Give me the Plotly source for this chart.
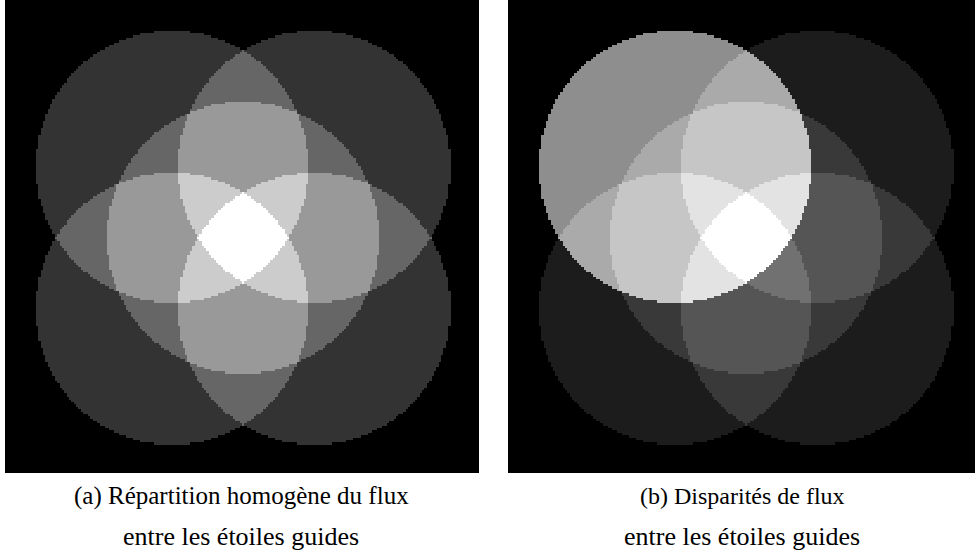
import numpy as np
import plotly.graph_objects as go

# Guide-star footprints on a 200x200 pixel grid: top-left, top-right, bottom-left, bottom-right, centre
star_x = [70, 130, 70, 130, 100]
star_y = [70, 70, 130, 130, 100]
star_radius = 57.5
grid_n = 200

# Relative flux of each guide star
flux_a = [1, 1, 1, 1, 1]   # homogeneous
flux_b = [5, 1, 1, 1, 1]   # disparate

caption_a = ["(a) Répartition homogène du flux", "entre les étoiles guides"]
caption_b = ["(b) Disparités de flux", "entre les étoiles guides"]


def intensity(flux):
    yy, xx = np.mgrid[0:grid_n, 0:grid_n]
    z = np.zeros((grid_n, grid_n))
    total = float(sum(flux))
    for x0, y0, f in zip(star_x, star_y, flux):
        inside = (xx - x0) ** 2 + (yy - y0) ** 2 <= star_radius ** 2
        z += np.where(inside, f / total, 0.0)
    return np.clip(z * 255.0, 0, 255)


gray = [[0, "rgb(0,0,0)"], [1, "rgb(255,255,255)"]]

fig = go.Figure()
fig.add_trace(go.Heatmap(z=intensity(flux_a), colorscale=gray, zmin=0, zmax=255,
                         showscale=False, hoverinfo="skip", xaxis="x", yaxis="y"))
fig.add_trace(go.Heatmap(z=intensity(flux_b), colorscale=gray, zmin=0, zmax=255,
                         showscale=False, hoverinfo="skip", xaxis="x2", yaxis="y2"))

W, H = 975, 559
top_frac = 1 - 473 / H
ax_common = dict(visible=False, showgrid=False, zeroline=False, fixedrange=True)
fig.update_layout(
    width=W, height=H, margin=dict(l=0, r=0, t=0, b=0),
    paper_bgcolor="white", plot_bgcolor="white",
    xaxis=dict(domain=[5 / W, 479 / W], range=[-0.5, grid_n - 0.5], **ax_common),
    yaxis=dict(domain=[top_frac, 1], range=[grid_n - 0.5, -0.5], anchor="x", **ax_common),
    xaxis2=dict(domain=[508 / W, 1], range=[-0.5, -0.5 + grid_n * 467 / 474], anchor="y2", **ax_common),
    yaxis2=dict(domain=[top_frac, 1], range=[grid_n - 0.5, -0.5], anchor="x2", **ax_common),
    showlegend=False,
)

family = "Liberation Serif, Times New Roman, serif"
line_y = [1 - 496 / H, 1 - 536 / H]
for cx, lines, sizes in [(241 / W, caption_a, [25, 26]), (742 / W, caption_b, [24, 26])]:
    for ly, txt, fs in zip(line_y, lines, sizes):
        fig.add_annotation(x=cx, y=ly, xref="paper", yref="paper", text=txt,
                           showarrow=False, xanchor="center", yanchor="middle",
                           font=dict(family=family, size=fs, color="black"))

fig.write_html("out.html", config={"displayModeBar": False},
               post_script="document.body.style.margin='0px';")
